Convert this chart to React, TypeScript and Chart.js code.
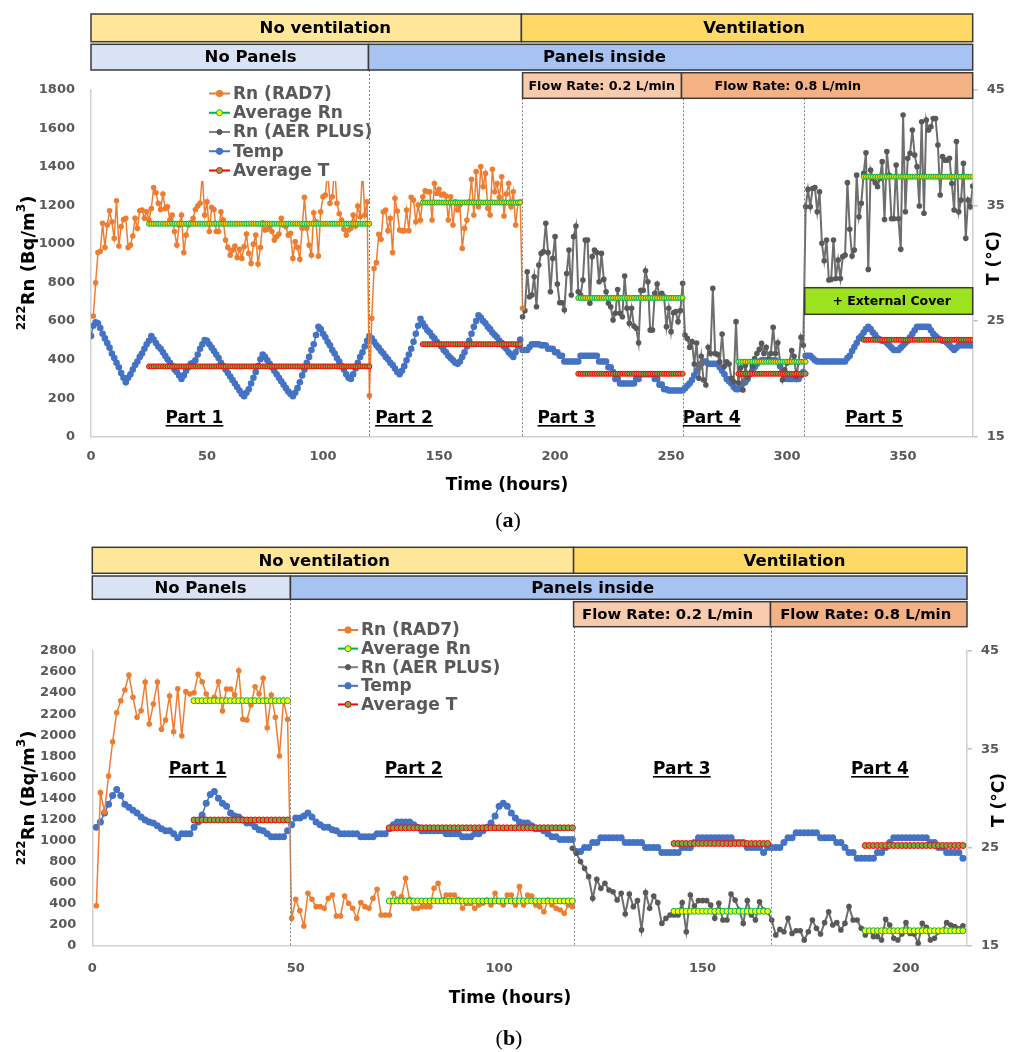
import React, { useEffect, useRef } from "react";
import { Chart, registerables } from "chart.js";

Chart.register(...registerables);

const FONT = "'DejaVu Sans', Verdana, sans-serif";

// ================= DATA: panel (a) =================
const aRad7Start = 1; // hour of first RAD7 value
const aRad7 = [
  626, 799, 955, 962, 1107, 982, 1098, 1172, 1115, 1029,
  1224, 989, 1090, 1127, 1133, 982, 994, 1041, 1133, 1081,
  1172, 1176, 1133, 1167, 1124, 1184, 1293, 1266, 1211, 1179,
  1259, 1184, 1193, 1124, 1150, 1064, 994, 1098, 1150, 955,
  1046, 1098, 1110, 1133, 1179, 1197, 1211, 1360, 1150, 1219,
  1064, 1190, 1179, 1064, 1064, 1167, 1124, 1020, 982, 942,
  968, 989, 930, 972, 925, 986, 1051, 951, 899, 999,
  1046, 896, 982, 1110, 1072, 1076, 1086, 1064, 1020, 1038,
  1051, 1133, 1098, 1090, 1046, 1055, 925, 1012, 982, 920,
  1081, 1242, 1081, 994, 942, 1162, 1115, 937, 1167, 1245,
  1254, 1380, 1211, 1245, 1400, 1211, 1157, 1124, 1076, 1046,
  1072, 1081, 1150, 1093, 1197, 1141, 1390, 1150, 1219,
  213, 614, 873, 903, 1050, 1024, 1167, 1176, 1069, 1133,
  955, 1237, 1171, 1072, 1069, 1069, 1176, 1069, 1242, 1228,
  1115, 1202, 1124, 1245, 1276, 1271, 1271, 1124, 1314, 1262,
  1283, 1254, 1259, 1249, 1124, 1245, 1098, 1219, 1176, 1202,
  977, 1081, 1124, 1219, 1335, 1150, 1375, 1193, 1401, 1297,
  1366, 1185, 1150, 1387, 1271, 1314, 1242, 1349, 1145, 1259,
  1314, 1193, 1271, 1098, 1211, 1219, 666,
];
const aAerStart = 186;
const aAer = [
  622, 654, 856, 726, 735, 830, 674, 891, 951, 960,
  1107, 955, 752, 925, 1038, 792, 695, 695, 657, 847,
  968, 735, 1038, 1093, 752, 735, 813, 1020, 1020, 692,
  934, 968, 955, 804, 951, 816, 752, 692, 674, 605,
  640, 764, 640, 622, 834, 666, 588, 666, 574, 562,
  487, 759, 759, 861, 804, 553, 553, 744, 792, 726,
  744, 726, 571, 666, 545, 643, 649, 597, 654, 796,
  528, 510, 464, 493, 377, 486, 303, 417, 294, 268,
  464, 432, 770, 432, 427, 388, 533, 365, 388, 377,
  303, 285, 597, 280, 357, 242, 370, 311, 329, 365,
  405, 432, 453, 484, 432, 464, 399, 432, 567, 432,
  487, 388, 294, 347, 382, 388, 447, 417, 311, 388,
  516, 474,
  1193, 1283, 1193, 1288, 1293, 1167, 1271, 1003, 913, 1020,
  813, 816, 1020, 821, 916, 821, 934, 942, 1318, 1076,
  937, 968, 1357, 1141, 1211, 1366, 1473, 868, 1383, 1340,
  1318, 1297, 1340, 1427, 1127, 1479, 1357, 1131, 1131, 1409,
  1131, 972, 1669, 1167, 1444, 1470, 1591, 1461, 1401, 1197,
  1634, 1159, 1643, 1591, 1608, 1651, 1651, 1513, 1254, 1453,
  1435, 1435, 1444, 1314, 1176, 1531, 1167, 1228, 1418, 1029,
  1228, 1193, 1300,
];
const aTempStart = 0;
const aTemp = [
  23.7, 24.6, 24.9, 24.8, 24.4, 23.9, 23.5, 23.1, 22.7, 22.2,
  21.8, 21.4, 21.0, 20.5, 20.1, 19.7, 20.1, 20.4, 20.8, 21.2,
  21.5, 21.9, 22.2, 22.6, 23.0, 23.3, 23.7, 23.4, 23.1, 22.8,
  22.6, 22.3, 22.0, 21.7, 21.4, 21.1, 20.8, 20.6, 20.3, 20.0,
  20.3, 20.7, 21.0, 21.3, 21.4, 21.6, 22.1, 22.6, 23.0, 23.35,
  23.3, 23.0, 22.7, 22.4, 22.1, 21.8, 21.4, 21.1, 20.8, 20.5,
  20.2, 19.9, 19.6, 19.3, 19.0, 18.7, 18.5, 18.8, 19.1, 19.6,
  20.1, 20.6, 21.1, 21.7, 22.1, 21.9, 21.6, 21.3, 21.0, 20.7,
  20.4, 20.1, 19.8, 19.5, 19.2, 18.9, 18.7, 18.5, 18.8, 19.2,
  19.7, 20.3, 20.8, 21.4, 21.9, 22.5, 23.0, 23.8, 24.5, 24.3,
  23.9, 23.6, 23.2, 22.9, 22.5, 22.2, 21.8, 21.5, 21.1, 20.8,
  20.4, 20.1, 20.0, 20.4, 20.9, 21.4, 21.9, 22.3, 22.8, 23.3,
  23.7, 23.5, 23.2, 22.9, 22.7, 22.4, 22.2, 21.9, 21.7, 21.4,
  21.2, 20.9, 20.6, 20.4, 20.7, 21.1, 21.6, 22.1, 22.6, 23.2,
  23.9, 24.6, 25.2, 24.8, 24.5, 24.2, 24.0, 23.7, 23.5, 23.2,
  23.0, 22.8, 22.5, 22.3, 22.0, 21.8, 21.6, 21.4, 21.3, 21.5,
  21.9, 22.3, 22.8, 23.3, 23.9, 24.5, 25.0, 25.5, 25.3, 25.0,
  24.8, 24.5, 24.3, 24.0, 23.8, 23.6, 23.3, 23.1, 22.8, 22.6,
  22.3, 22.1, 21.9, 22.3, 22.8, 23.4, 22.5, 22.5, 22.5, 22.75,
  23.0, 23.0, 23.0, 23.0, 22.9, 22.9, 22.9, 22.6, 22.6, 22.6,
  22.3, 22.3, 22.0, 22.0, 21.5, 21.5, 21.5, 21.5, 21.5, 21.5,
  21.5, 22.0, 22.0, 22.0, 22.0, 22.0, 22.0, 22.0, 22.0, 21.5,
  21.5, 21.5, 21.5, 21.0, 21.0, 20.6, 20.0, 20.0, 19.6, 19.6,
  19.6, 19.6, 19.6, 19.6, 19.6, 20.0, 20.0, 20.4, 20.4, 20.4,
  20.4, 20.4, 20.4, 20.0, 20.0, 19.5, 19.5, 19.1, 19.1, 19.0,
  19.0, 19.0, 19.0, 19.0, 19.0, 19.0, 19.2, 19.4, 19.6, 19.9,
  20.3, 20.7, 21.0, 21.3, 21.5, 21.5, 21.3, 21.3, 21.3, 21.3,
  21.3, 21.0, 20.7, 20.4, 20.0, 19.8, 19.6, 19.3, 19.1, 19.1,
  19.4, 19.6, 19.7, 20.0, 20.4, 20.7, 21.0, 21.3, 21.5, 21.6,
  21.6, 21.6, 21.6, 21.6, 21.6, 21.6, 21.5, 21.1, 20.7, 20.4,
  20.0, 20.0, 20.0, 20.0, 20.0, 20.0, 20.3, 20.6, 22.0, 22.0,
  22.0, 21.8, 21.6, 21.5, 21.5, 21.5, 21.5, 21.5, 21.5, 21.5,
  21.5, 21.5, 21.5, 21.5, 21.5, 21.5, 21.8, 22.0, 22.4, 22.75,
  23.1, 23.5, 23.7, 24.0, 24.3, 24.5, 24.3, 24.0, 23.8, 23.5,
  23.4, 23.3, 23.3, 23.1, 22.9, 22.7, 22.5, 22.5, 22.5, 22.7,
  22.9, 23.1, 23.3, 23.6, 23.9, 24.2, 24.5, 24.5, 24.5, 24.5,
  24.5, 24.5, 24.2, 23.9, 23.7, 23.5, 23.4, 23.3, 23.3, 23.1,
  22.9, 22.7, 22.5, 22.7, 22.9, 22.9, 22.9, 22.9, 22.9, 22.9, 22.9,
];
const aAvgRnFrom = [25, 143, 210, 279, 333];
const aAvgRnTo = [120, 185, 255, 308, 380];
const aAvgRnValue = [1105, 1215, 720, 389, 1349];
const aAvgTFrom = [25, 143, 210, 279, 333];
const aAvgTTo = [120, 185, 255, 308, 380];
const aAvgTValue = [21.08, 23.0, 20.44, 20.44, 23.38];

// ================= DATA: panel (b) =================
const bRad7Start = 1;
const bRad7 = [
  380, 1454, 1273, 1612, 1938, 2214, 2328, 2430, 2572, 2360,
  2170, 2233, 2505, 2106, 2296, 2505, 2056, 2145, 2373, 2033,
  2442, 1995, 2414, 2392, 2404, 2578, 2508, 2392, 2328, 2360,
  2508, 2233, 2439, 2439, 2382, 2613, 2151, 2145, 2287, 2461,
  2392, 2540, 2071, 2382, 2170, 1802, 2328, 2151,
  260, 441, 333, 187, 498, 441, 371, 371, 355, 450,
  482, 282, 282, 472, 403, 355, 260, 409, 371, 355,
  450, 536, 292, 292, 292, 498, 441, 466, 640, 441,
  355, 355, 371, 371, 371, 545, 593, 434, 482, 482,
  482, 441, 355, 403, 403, 355, 387, 403, 434, 387,
  498, 418, 387, 482, 482, 387, 561, 387, 482, 472,
  387, 371, 323, 434, 387, 355, 339, 308, 387, 371,
];
const bAerStart = 118;
const bAer = [
  925, 878, 799, 735, 656, 450, 631, 545, 593, 529,
  513, 434, 498, 301, 491, 371, 428, 150, 504, 355,
  472, 409, 212, 260, 292, 292, 292, 409, 133, 482,
  377, 428, 428, 428, 387, 260, 403, 244, 244, 491,
  434, 339, 212, 428, 292, 244, 418, 339, 323, 244,
  101, 155, 133, 260, 117, 142, 142, 54, 133, 244,
  165, 111, 219, 323, 197, 219, 149, 212, 371, 244,
  244, 165, 101, 142, 86, 86, 54, 251, 197, 70,
  54, 111, 219, 117, 111, 22, 212, 174, 54, 70,
  133, 142, 219, 197, 181, 160, 190,
];
const bTempStart = 1;
const bTemp = [
  27.05, 27.6, 28.5, 29.4, 30.3, 30.9, 30.3, 29.4, 29.1, 28.8,
  28.5, 28.1, 27.8, 27.6, 27.5, 27.2, 26.9, 26.7, 26.7, 26.4,
  26.0, 26.4, 26.4, 26.4, 27.05, 27.6, 28.3, 29.5, 30.4, 30.7,
  30.0, 29.5, 29.2, 28.5, 28.2, 28.1, 27.8, 27.5, 27.5, 27.1,
  26.8, 26.7, 26.4, 26.1, 26.1, 26.1, 26.1, 26.7,
  27.3, 28.0, 28.0, 28.2, 28.5, 28.1, 27.6, 27.3, 27.05, 27.05,
  26.8, 26.7, 26.4, 26.4, 26.4, 26.4, 26.4, 26.1, 26.1, 26.1,
  26.1, 26.4, 26.4, 26.4, 26.9, 27.3, 27.6, 27.6, 27.6, 27.6,
  27.3, 27.05, 26.7, 26.7, 26.7, 26.7, 26.7, 26.7, 26.4, 26.4,
  26.4, 26.4, 26.1, 26.1, 26.1, 26.4, 26.4, 26.7, 27.05, 27.5,
  28.2, 29.2, 29.5, 29.2, 28.5, 28.0, 27.6, 27.5, 27.5, 27.2,
  26.9, 26.9, 26.7, 26.4, 26.1, 26.1, 25.8, 25.8, 25.8, 25.8,
  24.6, 24.6, 25.0, 25.0, 25.5, 25.5, 26.0, 26.0, 26.0, 26.0,
  26.0, 26.0, 25.5, 25.5, 25.5, 25.5, 25.5, 25.0, 25.0, 25.0,
  25.0, 24.5, 24.5, 24.5, 24.5, 24.5, 25.0, 25.0, 25.0, 25.5,
  26.0, 26.0, 26.0, 26.0, 26.0, 26.0, 26.0, 26.0, 26.0, 25.5,
  25.5, 25.5, 25.0, 25.0, 25.0, 25.0, 24.5, 25.0, 25.0, 25.0,
  25.0, 25.5, 26.0, 26.0, 26.5, 26.5, 26.5, 26.5, 26.5, 26.5,
  26.0, 26.0, 26.0, 26.0, 25.5, 25.5, 25.0, 24.5, 24.5, 23.9,
  23.9, 23.9, 23.9, 23.9, 24.5, 24.5, 25.0, 25.5, 26.0, 26.0,
  26.0, 26.0, 26.0, 26.0, 26.0, 26.0, 26.0, 25.5, 25.5, 25.0,
  25.0, 24.5, 24.5, 24.5, 24.5, 23.9,
];
const bAvgRnFrom = [25, 73, 143, 190];
const bAvgRnTo = [48, 118, 166, 214];
const bAvgRnValue = [2328, 425, 327, 142];
const bAvgTFrom = [25, 73, 143, 190];
const bAvgTTo = [48, 118, 166, 214];
const bAvgTValue = [27.8, 27.0, 25.4, 25.2];

// ================= LABELS =================
const legendLabels = ["Rn (RAD7)", "Average Rn", "Rn (AER PLUS)", "Temp", "Average T"];
const aPartLabels = ["Part 1", "Part 2", "Part 3", "Part 4", "Part 5"];
const aPartAt = [44.6, 134.9, 204.9, 267.5, 337.5];
const bPartLabels = ["Part 1", "Part 2", "Part 3", "Part 4"];
const bPartAt = [25.9, 79, 144.9, 193.6];
const aDividers = [119.6, 185.6, 255.2, 307.3];
const aDividerRow = [1, 2, 2, 2];
const bDividers = [48.5, 118.3, 166.8];
const bDividerRow = [1, 2, 2];

const aBanners = [
  [
    { from: 0, to: 185.5, text: "No ventilation", fill: "#FFE699", at: 101 },
    { from: 185.5, to: 380, text: "Ventilation", fill: "#FFD966", at: 285.8 },
  ],
  [
    { from: 0, to: 119.6, text: "No Panels", fill: "#DAE3F3", at: 68.8 },
    { from: 119.6, to: 380, text: "Panels inside", fill: "#A6C3F2", at: 221.3 },
  ],
  [
    { from: 186, to: 254.5, text: "Flow Rate: 0.2 L/min", fill: "#F8CBAD", at: 220.1 },
    { from: 254.5, to: 380, text: "Flow Rate: 0.8 L/min", fill: "#F4B183", at: 300.3 },
  ],
];
const bBanners = [
  [
    { from: 0, to: 118.3, text: "No ventilation", fill: "#FFE699", at: 57 },
    { from: 118.3, to: 215, text: "Ventilation", fill: "#FFD966", at: 172.6 },
  ],
  [
    { from: 0, to: 48.7, text: "No Panels", fill: "#DAE3F3", at: 26.6 },
    { from: 48.7, to: 215, text: "Panels inside", fill: "#A6C3F2", at: 123 },
  ],
  [
    { from: 118.3, to: 166.7, text: "Flow Rate: 0.2 L/min", fill: "#F8CBAD", at: 141.4 },
    { from: 166.7, to: 215, text: "Flow Rate: 0.8 L/min", fill: "#F4B183", at: 190.1 },
  ],
];

// ================= helpers =================
const ORANGE = "#ED7D31";
const BLUE = "#4472C4";
const GRAY = "#595959";
const GREEN = "#00B050";
const RED = "#FF0000";

function series(start: number, values: number[]) {
  return values.map((v, i) => ({ x: start + i, y: v }));
}
function avgSeries(from: number[], to: number[], vals: number[]) {
  const pts: { x: number; y: number | null }[] = [];
  from.forEach((f, k) => {
    for (let t = f; t <= to[k]; t++) pts.push({ x: t, y: vals[k] });
    pts.push({ x: to[k] + 0.5, y: null });
  });
  return pts;
}

const legendStyles = [
  { line: ORANGE, fill: ORANGE, stroke: ORANGE, r: 3.2 },
  { line: GREEN, fill: "#FFFF00", stroke: GREEN, r: 3 },
  { line: "#7F7F7F", fill: GRAY, stroke: GRAY, r: 2.6 },
  { line: BLUE, fill: BLUE, stroke: BLUE, r: 3.2 },
  { line: RED, fill: "#70AD47", stroke: RED, r: 3 },
];

function overlayPlugin(spec: any) {
  return {
    id: "overlay",
    afterDraw(chart: any) {
      const ctx = chart.ctx as CanvasRenderingContext2D;
      const xs = chart.scales.x;
      const ys = chart.scales.y;
      const area = chart.chartArea;
      const X = (t: number) => xs.getPixelForValue(t);
      ctx.save();

      // legend (white box hides data below it)
      const lg = spec.legend;
      ctx.fillStyle = "#FFFFFF";
      ctx.fillRect(lg.box[0], lg.box[1], lg.box[2], lg.box[3]);
      ctx.font = `bold 17px ${FONT}`;
      ctx.textAlign = "left";
      ctx.textBaseline = "middle";
      legendLabels.forEach((lab, i) => {
        const y = lg.y + i * lg.dy;
        const st = legendStyles[i];
        ctx.strokeStyle = st.line;
        ctx.lineWidth = 2;
        ctx.beginPath();
        ctx.moveTo(lg.x0, y);
        ctx.lineTo(lg.x1, y);
        ctx.stroke();
        ctx.beginPath();
        ctx.arc((lg.x0 + lg.x1) / 2, y, st.r, 0, Math.PI * 2);
        ctx.fillStyle = st.fill;
        ctx.fill();
        ctx.lineWidth = 1;
        ctx.strokeStyle = st.stroke;
        ctx.stroke();
        ctx.fillStyle = GRAY;
        ctx.fillText(lab, lg.tx, y + 1);
      });

      // dotted dividers
      ctx.strokeStyle = "#7F7F7F";
      ctx.lineWidth = 1;
      ctx.setLineDash([2, 2]);
      spec.dividers.forEach((t: number, i: number) => {
        const x = Math.round(X(t)) + 0.5;
        ctx.beginPath();
        ctx.moveTo(x, spec.rows[spec.dividerRow[i]][1]);
        ctx.lineTo(x, area.bottom);
        ctx.stroke();
      });
      ctx.setLineDash([]);

      // banners
      spec.banners.forEach((row: any[], r: number) => {
        const [y0, y1] = spec.rows[r];
        row.forEach((b) => {
          const x0 = X(b.from);
          const x1 = X(b.to);
          ctx.fillStyle = b.fill;
          ctx.fillRect(x0, y0, x1 - x0, y1 - y0);
          ctx.strokeStyle = "#3A3A3A";
          ctx.lineWidth = 1.5;
          ctx.strokeRect(x0, y0, x1 - x0, y1 - y0);
          ctx.fillStyle = "#000000";
          ctx.font = `bold ${r === 2 ? spec.flowSize : 16.5}px ${FONT}`;
          ctx.textAlign = "center";
          ctx.textBaseline = "middle";
          ctx.fillText(b.text, X(b.at), (y0 + y1) / 2 + 1);
        });
      });

      // part labels (underlined)
      ctx.font = `bold 17px ${FONT}`;
      ctx.textAlign = "center";
      ctx.textBaseline = "alphabetic";
      ctx.fillStyle = "#000000";
      spec.parts.forEach((lab: string, i: number) => {
        const cx = X(spec.partAt[i]);
        ctx.fillText(lab, cx, spec.partY);
        const w = ctx.measureText(lab).width;
        ctx.fillRect(cx - w / 2, spec.partY + 2, w, 1.6);
      });

      // extra box (external cover)
      if (spec.cover) {
        const c = spec.cover;
        const x0 = X(c.from);
        const x1 = X(c.to);
        const yTop = ys.getPixelForValue(c.hi);
        const yBot = ys.getPixelForValue(c.lo);
        ctx.fillStyle = "#9CE21F";
        ctx.fillRect(x0, yTop, x1 - x0, yBot - yTop);
        ctx.strokeStyle = "#3A3A3A";
        ctx.lineWidth = 1.5;
        ctx.strokeRect(x0, yTop, x1 - x0, yBot - yTop);
        ctx.fillStyle = "#000";
        ctx.font = `bold 12.5px ${FONT}`;
        ctx.textAlign = "center";
        ctx.textBaseline = "middle";
        ctx.fillText(c.text, (x0 + x1) / 2 + 3, (yTop + yBot) / 2 + 1);
      }

      // axis titles
      ctx.fillStyle = "#000000";
      {
        const [cx, cy] = spec.yTitle;
        const big = `bold 18px ${FONT}`;
        const small = `bold 12px ${FONT}`;
        const pieces = [
          { t: "222", f: small, up: 7 },
          { t: "Rn (Bq/m", f: big, up: 0 },
          { t: "3", f: small, up: 7 },
          { t: ")", f: big, up: 0 },
        ];
        let total = 0;
        pieces.forEach((p) => {
          ctx.font = p.f;
          total += ctx.measureText(p.t).width;
        });
        ctx.save();
        ctx.translate(cx, cy);
        ctx.rotate(-Math.PI / 2);
        ctx.textAlign = "left";
        ctx.textBaseline = "middle";
        let px = -total / 2;
        pieces.forEach((p) => {
          ctx.font = p.f;
          ctx.fillText(p.t, px, 1 - p.up);
          px += ctx.measureText(p.t).width;
        });
        ctx.restore();
      }
      {
        const [cx, cy] = spec.y1Title;
        ctx.save();
        ctx.translate(cx, cy);
        ctx.rotate(-Math.PI / 2);
        ctx.font = `bold 17px ${FONT}`;
        ctx.textAlign = "center";
        ctx.textBaseline = "middle";
        ctx.fillText("T (°C)", 0, 0);
        ctx.restore();
      }
      ctx.font = `bold 17px ${FONT}`;
      ctx.textAlign = "center";
      ctx.textBaseline = "middle";
      ctx.fillText("Time (hours)", spec.xTitle[0], spec.xTitle[1]);

      // caption (a)/(b)
      {
        const [cx, cy] = spec.caption;
        const reg = `22px 'Liberation Serif', serif`;
        const bold = `bold 22px 'Liberation Serif', serif`;
        const parts = [
          { t: "(", f: reg },
          { t: spec.captionLetter, f: bold },
          { t: ")", f: reg },
        ];
        let total = 0;
        parts.forEach((p) => {
          ctx.font = p.f;
          total += ctx.measureText(p.t).width;
        });
        let px = cx - total / 2;
        ctx.textAlign = "left";
        ctx.textBaseline = "middle";
        parts.forEach((p) => {
          ctx.font = p.f;
          ctx.fillText(p.t, px, cy);
          px += ctx.measureText(p.t).width;
        });
      }
      ctx.restore();
    },
  };
}

const plainTick = (v: any) => String(v);

function buildConfig(p: any) {
  const tickFont = { family: FONT, weight: "bold" as const, size: 13 };
  return {
    type: "line" as const,
    data: {
      datasets: [
        {
          label: "Average T",
          data: p.avgT,
          yAxisID: "y1",
          borderColor: RED,
          borderWidth: 1.5,
          pointRadius: p.avgR,
          pointBackgroundColor: "#70AD47",
          pointBorderColor: RED,
          pointBorderWidth: 1,
          spanGaps: false,
        },
        {
          label: "Average Rn",
          data: p.avgRn,
          yAxisID: "y",
          borderColor: GREEN,
          borderWidth: 1.5,
          pointRadius: p.avgR,
          pointBackgroundColor: p.avgRnFill,
          pointBorderColor: GREEN,
          pointBorderWidth: 1,
          spanGaps: false,
        },
        {
          label: "Rn (RAD7)",
          data: p.rad7,
          yAxisID: "y",
          borderColor: ORANGE,
          borderWidth: 1.5,
          pointRadius: 2.8,
          pointBackgroundColor: ORANGE,
          pointBorderWidth: 0,
        },
        {
          label: "Rn (AER PLUS)",
          data: p.aer,
          yAxisID: "y",
          borderColor: "#6E6E6E",
          borderWidth: 2,
          pointRadius: 2.8,
          pointBackgroundColor: GRAY,
          pointBorderWidth: 0,
        },
        {
          label: "Temp",
          data: p.temp,
          yAxisID: "y1",
          borderColor: BLUE,
          borderWidth: 1.5,
          pointRadius: p.tempR,
          pointBackgroundColor: BLUE,
          pointBorderWidth: 0,
        },
      ],
    },
    options: {
      animation: false as const,
      responsive: false,
      maintainAspectRatio: false,
      events: [],
      layout: { padding: { top: p.top, left: 0, right: 0, bottom: 0 } },
      elements: { line: { tension: 0 } },
      plugins: { legend: { display: false }, tooltip: { enabled: false } },
      scales: {
        x: {
          type: "linear" as const,
          min: 0,
          max: p.xMax,
          ticks: { stepSize: 50, includeBounds: false, font: tickFont, color: GRAY, padding: p.xPad, maxRotation: 0, callback: plainTick },
          grid: { display: false, drawTicks: false },
          border: { display: true, color: "#D0D0D0", width: 1.5 },
          afterFit: (s: any) => {
            s.height = p.xH;
          },
        },
        y: {
          position: "left" as const,
          min: 0,
          max: p.yMax,
          ticks: { stepSize: 200, font: tickFont, color: GRAY, padding: 16, callback: plainTick },
          grid: { display: false, drawTicks: false },
          border: { display: true, color: "#D0D0D0", width: 1.5 },
          afterFit: (s: any) => {
            s.width = p.leftW;
          },
        },
        y1: {
          position: "right" as const,
          min: 15,
          max: 45,
          ticks: { stepSize: 10, font: tickFont, color: GRAY, padding: 9, callback: plainTick },
          grid: { display: true, drawOnChartArea: false, drawTicks: true, tickLength: 5, color: "#BFBFBF", lineWidth: 1.5 },
          border: { display: true, color: "#D0D0D0", width: 1.5 },
          afterFit: (s: any) => {
            s.width = p.rightW;
          },
        },
      },
    },
    plugins: [overlayPlugin(p.spec)],
  };
}

function ChartPanel({ cfg, top, width, height }: { cfg: any; top: number; width: number; height: number }) {
  const ref = useRef<HTMLCanvasElement | null>(null);
  useEffect(() => {
    if (!ref.current) return;
    const chart = new Chart(ref.current, cfg);
    return () => chart.destroy();
  }, [cfg]);
  return (
    <canvas
      ref={ref}
      width={width}
      height={height}
      style={{ position: "absolute", left: 0, top, width, height, display: "block" }}
    />
  );
}

const topCfg = buildConfig({
  rad7: series(aRad7Start, aRad7),
  aer: series(aAerStart, aAer),
  temp: series(aTempStart, aTemp),
  avgRn: avgSeries(aAvgRnFrom, aAvgRnTo, aAvgRnValue),
  avgT: avgSeries(aAvgTFrom, aAvgTTo, aAvgTValue),
  avgR: 2.5,
  avgRnFill: "#FFD200",
  tempR: 3.3,
  xMax: 380,
  yMax: 1800,
  top: 89.75,
  xH: 98.3,
  xPad: 12,
  leftW: 91,
  rightW: 36.3,
  spec: {
    legend: { box: [197, 82, 176, 99], y: 93.5, dy: 19.25, x0: 209, x1: 230, tx: 233 },
    dividers: aDividers,
    dividerRow: aDividerRow,
    rows: [
      [14, 41.7],
      [44.3, 70],
      [72.7, 98.3],
    ],
    banners: aBanners,
    flowSize: 12.7,
    parts: aPartLabels,
    partAt: aPartAt,
    partY: 423,
    cover: { from: 307.6, to: 380, hi: 773, lo: 635, text: "+ External Cover" },
    yTitle: [28, 263],
    y1Title: [995, 258],
    xTitle: [507, 486],
    caption: [508, 521],
    captionLetter: "a",
  },
});

const bottomCfg = buildConfig({
  rad7: series(bRad7Start, bRad7),
  aer: series(bAerStart, bAer),
  temp: series(bTempStart, bTemp),
  avgRn: avgSeries(bAvgRnFrom, bAvgRnTo, bAvgRnValue),
  avgT: avgSeries(bAvgTFrom, bAvgTTo, bAvgTValue),
  avgR: 3,
  avgRnFill: "#FFFF00",
  tempR: 3.5,
  xMax: 215,
  yMax: 2800,
  top: 116,
  xH: 106.3,
  xPad: 15,
  leftW: 92.3,
  rightW: 42,
  spec: {
    legend: { box: [334, 84, 190, 96], y: 95, dy: 18.6, x0: 338, x1: 358, tx: 361 },
    dividers: bDividers,
    dividerRow: bDividerRow,
    rows: [
      [12.3, 38.3],
      [41, 64.3],
      [66.7, 91.7],
    ],
    banners: bBanners,
    flowSize: 14.8,
    parts: bPartLabels,
    partAt: bPartAt,
    partY: 239,
    cover: null,
    yTitle: [28, 263],
    y1Title: [1000, 265],
    xTitle: [510, 464],
    caption: [509, 504],
    captionLetter: "b",
  },
});

export default function App() {
  return (
    <div style={{ position: "absolute", left: 0, top: 0, width: 1009, height: 1052, background: "#fff" }}>
      <ChartPanel cfg={topCfg} top={0} width={1009} height={535} />
      <ChartPanel cfg={bottomCfg} top={535} width={1009} height={517} />
    </div>
  );
}
